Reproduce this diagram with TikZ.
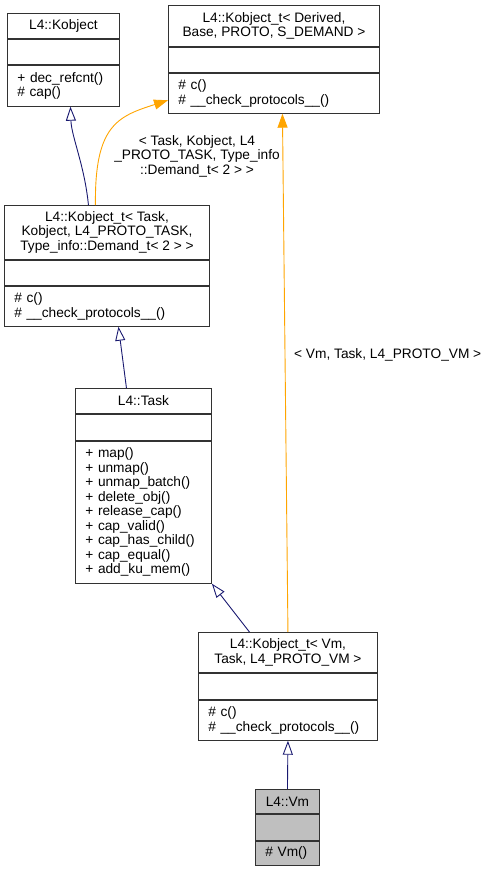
\documentclass[tikz,border=0pt]{standalone}
\usepackage{fontspec}
\setmainfont{Liberation Sans}
\usepackage{tikz}
\usetikzlibrary{arrows.meta,calc,positioning}
\definecolor{EdgeNavy}{RGB}{25,25,112}
\definecolor{EdgeOrange}{RGB}{255,165,0}
\definecolor{LeafGray}{RGB}{191,191,191}
\definecolor{BoxLine}{RGB}{50,50,50}

\begin{document}
\begin{tikzpicture}[x=1pt,y=-1pt,>=Latex,font=\fontsize{13.7}{14.5}\selectfont,
    part/.style={draw=BoxLine,line width=0.9pt,fill=white,anchor=north west,inner sep=0pt,align=center},
    opsbox/.style={part,align=left,inner xsep=10pt},
    inherit/.style={EdgeNavy,line width=0.9pt,-{Triangle[fill=white,length=14pt,width=10pt]}},
    realize/.style={EdgeOrange,line width=0.9pt,-{Triangle[length=14pt,width=10pt]}},
    lbl/.style={align=center,inner sep=0pt}]
      \useasboundingbox (0,0) rectangle (493,871);
      \node[part,minimum width=112pt,minimum height=25pt] (kobj-t) at (7,13) {L4::Kobject};
      \node[part,minimum width=112pt,minimum height=25pt] (kobj-a) at (kobj-t.south west) {};
      \node[opsbox,text width=92pt,minimum height=41pt] (kobj-o) at (kobj-a.south west) {+ dec\_refcnt()\\\# cap()};
      \node[part,minimum width=211pt,minimum height=41pt] (kder-t) at (168,5) {L4::Kobject\_t< Derived,\\Base, PROTO, S\_DEMAND >};
      \node[part,minimum width=211pt,minimum height=25pt] (kder-a) at (kder-t.south west) {};
      \node[opsbox,text width=191pt,minimum height=40pt] (kder-o) at (kder-a.south west) {\# c()\\\# \_\_check\_protocols\_\_()};
      \node[part,minimum width=205pt,minimum height=54pt] (ktask-t) at (4,205) {L4::Kobject\_t< Task,\\Kobject, L4\_PROTO\_TASK,\\Type\_info::Demand\_t< 2 > >};
      \node[part,minimum width=205pt,minimum height=25pt] (ktask-a) at (ktask-t.south west) {};
      \node[opsbox,text width=185pt,minimum height=40pt] (ktask-o) at (ktask-a.south west) {\# c()\\\# \_\_check\_protocols\_\_()};
      \node[part,minimum width=136pt,minimum height=25pt] (task-t) at (75,388) {L4::Task};
      \node[part,minimum width=136pt,minimum height=26pt] (task-a) at (task-t.south west) {};
      \node[opsbox,text width=116pt,minimum height=142pt] (task-o) at (task-a.south west) {+ map()\\+ unmap()\\+ unmap\_batch()\\+ delete\_obj()\\+ release\_cap()\\+ cap\_valid()\\+ cap\_has\_child()\\+ cap\_equal()\\+ add\_ku\_mem()};
      \node[part,minimum width=179pt,minimum height=40pt] (kvm-t) at (198,632) {L4::Kobject\_t< Vm,\\Task, L4\_PROTO\_VM >};
      \node[part,minimum width=179pt,minimum height=26pt] (kvm-a) at (kvm-t.south west) {};
      \node[opsbox,text width=159pt,minimum height=40pt] (kvm-o) at (kvm-a.south west) {\# c()\\\# \_\_check\_protocols\_\_()};
      \node[part,fill=LeafGray,minimum width=64pt,minimum height=24pt] (vm-t) at (255,789) {L4::Vm};
      \node[part,fill=LeafGray,minimum width=64pt,minimum height=26pt] (vm-a) at (vm-t.south west) {};
      \node[opsbox,fill=LeafGray,text width=44pt,minimum height=24pt] (vm-o) at (vm-a.south west) {\# Vm()};
      \draw[inherit] ([xshift=-18.5pt]ktask-t.north) .. controls +(-4,-40) and +(1,30) .. ([xshift=7pt]kobj-o.south);
      \draw[realize] ([xshift=-11.5pt]ktask-t.north) .. controls +(-1,-80) and +(-50,16) .. ([yshift=-7pt]kder-o.west);
      \node[lbl] (lbl-task) at (197,156) {< Task, Kobject, L4\\\_PROTO\_TASK, Type\_info\\::Demand\_t< 2 > >};
      \draw[inherit] ([xshift=-17pt]task-t.north) -- ([xshift=11.5pt]ktask-o.south);
      \draw[inherit] ([xshift=-38.5pt]kvm-t.north) -- (task-o.south east);
      \draw[realize] (kvm-t.north) -- ([xshift=8.5pt]kder-o.south);
      \node[lbl,anchor=west] (lbl-vm) at (294,355) {< Vm, Task, L4\_PROTO\_VM >};
      \draw[inherit] (vm-t.north) -- (kvm-o.south);
    \end{tikzpicture}
\end{document}
